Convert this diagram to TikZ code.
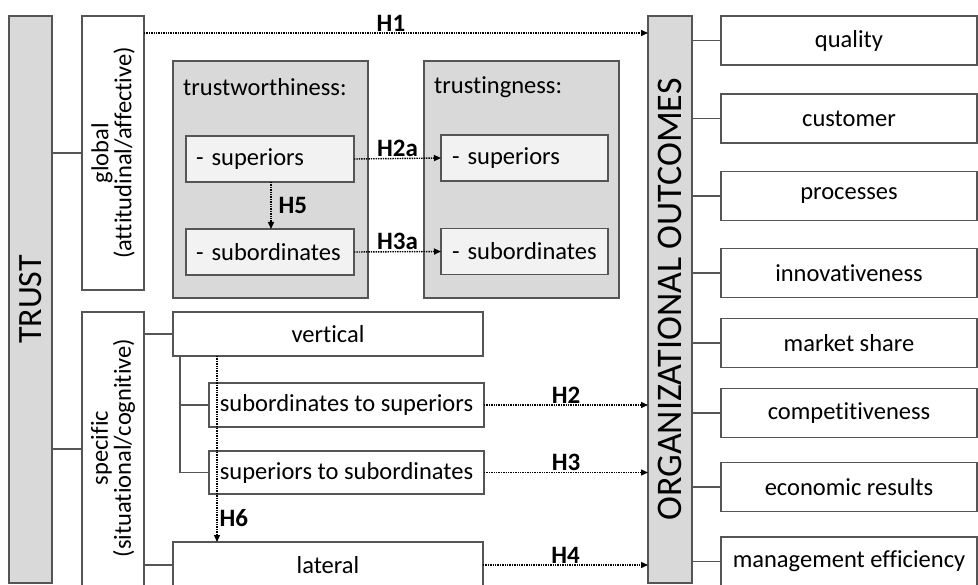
\documentclass[tikz,border=0pt]{standalone}
\usepackage{fontspec}
\setmainfont{Carlito}[Ligatures={NoCommon}]
\usetikzlibrary{arrows.meta}
\definecolor{boxline}{HTML}{555555}
\definecolor{darkfill}{HTML}{D9D9D9}
\definecolor{lightfill}{HTML}{F2F2F2}
\begin{document}
\begin{tikzpicture}[x=1pt,y=-1pt,
  font=\fontsize{24.5}{26}\selectfont,
  box/.style={draw=boxline, line width=1.2pt, fill=white, inner sep=0pt, outer sep=0pt},
  graybox/.style={box, fill=darkfill},
  lightbox/.style={box, fill=lightfill, text width=#1, align=left},
  link/.style={draw=boxline, line width=1.2pt},
  harrow/.style={line width=1.4pt, dash pattern=on 1.4pt off 1pt, -{Triangle[length=7pt,width=6pt]}},
  hlab/.style={font=\fontsize{25}{27}\selectfont\bfseries, inner sep=1pt}
]
\useasboundingbox (0,0) rectangle (978,585);
\begin{scope}
\clip (0,0) rectangle (978,585);
% left column
\node[graybox, minimum width=43, minimum height=567] (trust) at (30.5,299.5) {};
\node[rotate=90, font=\fontsize{34}{36}\selectfont] at (trust.center) {TRUST};
\node[box, minimum width=62, minimum height=274] (global) at (113,153) {};
\node[rotate=90, align=center] at (global.center) {global\\[-3pt](attitudinal/affective)};
\node[box, minimum width=62, minimum height=276] (specific) at (113,450) {};
\node[rotate=90, align=center] at (113,448) {specific\\[-3pt](situational/cognitive)};
% trustworthiness
\node[graybox, minimum width=195, minimum height=237] (tw) at (270.5,179.5) {};
\node[anchor=west, inner sep=0pt] (twt) at (183,87) {trustworthiness:};
\node[lightbox=148pt, minimum height=46, inner xsep=10pt] (twsup) at (270,159) {- superiors};
\node[lightbox=148pt, minimum height=46, inner xsep=10pt] (twsub) at (270,252) {- subordinates};
% trustingness
\node[graybox, minimum width=195, minimum height=237] (tg) at (521.5,179.5) {};
\node[anchor=west, inner sep=0pt] (tgt) at (434,87) {trustingness:};
\node[lightbox=145pt, minimum height=46, inner xsep=11pt] (tgsup) at (524.5,158) {- superiors};
\node[lightbox=145pt, minimum height=46, inner xsep=11pt] (tgsub) at (524.5,251.5) {- subordinates};
% specific boxes
\node[box, minimum width=310, minimum height=44] (vert) at (328,334) {vertical};
\node[box, minimum width=275, minimum height=44] (sts) at (346.5,405) {subordinates to superiors};
\node[box, minimum width=275, minimum height=43] (sst) at (346.5,472.5) {superiors to subordinates};
\node[box, minimum width=310, minimum height=46] (lat) at (328,565) {lateral};
% organizational outcomes
\node[graybox, minimum width=44, minimum height=567] (org) at (670,299.5) {};
\node[rotate=90, font=\fontsize{36}{38}\selectfont] at (org.center) {ORGANIZATIONAL OUTCOMES};
\foreach \n/\y/\t in {o1/40.5/quality, o2/118.5/customer, o3/196/processes, o4/273/innovativeness, o5/343/market share, o6/413/competitiveness, o7/487/economic results, o8/561.5/management efficiency}{
  \node[box, minimum width=256, minimum height=49] (\n) at (849,\y) {\t};
  \draw[link] (org.east |- \n.west) -- (\n.west);
}
% links
\draw[link] (trust.east |- global.west) -- (global.west);
\draw[link] (trust.east |- 0,449) -- (specific.west |- 0,449);
\draw[link] (specific.east |- vert.west) -- (vert.west);
\draw[link] (specific.east |- lat.west) -- (lat.west);
\draw[link] (vert.south -| 180,0) |- (sst.west);
\draw[link] (sts.west -| 180,0) -- (sts.west);
% hypotheses
\draw[harrow] (global.east |- 0,33) -- node[hlab, above, pos=0.49] {H1} (org.west |- 0,33);
\draw[harrow] (twsup.east) -- node[hlab, above] {H2a} (tgsup.west);
\draw[harrow] (twsub.east) -- node[hlab, above] {H3a} (tgsub.west);
\draw[harrow] (twsup.south -| 271,0) -- node[hlab, right, xshift=6pt] {H5} (twsub.north -| 271,0);
\draw[harrow] (vert.south -| 217,0) -- node[hlab, right, pos=0.87, xshift=1pt] {H6} (lat.north -| 217,0);
\draw[harrow] (sts.east) -- node[hlab, above] {H2} (org.west |- sts.east);
\draw[harrow] (sst.east) -- node[hlab, above] {H3} (org.west |- sst.east);
\draw[harrow] (lat.east) -- node[hlab, above] {H4} (org.west |- lat.east);
\end{scope}
\end{tikzpicture}
\end{document}
